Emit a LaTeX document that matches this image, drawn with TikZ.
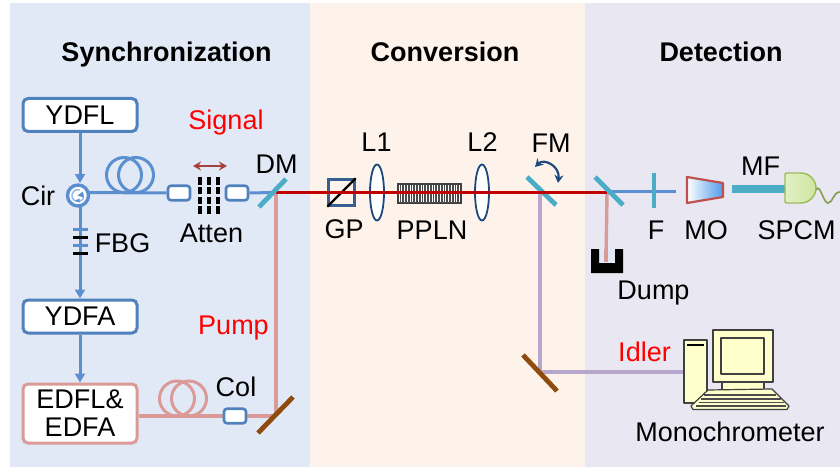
\documentclass[tikz,border=0pt]{standalone}
\usepackage{fontspec}
\setmainfont{Liberation Sans}
\usetikzlibrary{arrows.meta,shapes.geometric}
\definecolor{bgblue}{HTML}{E2E9F6}
\definecolor{bgpeach}{HTML}{FDF3EB}
\definecolor{bglav}{HTML}{E9E7F2}
\definecolor{fibre}{HTML}{5B8FD0}
\definecolor{boxblue}{HTML}{4F81BD}
\definecolor{pinkl}{HTML}{D99A98}
\definecolor{beam}{HTML}{C00000}
\definecolor{tealm}{HTML}{4BACC6}
\definecolor{mbrown}{HTML}{8F4A0E}
\definecolor{idl}{HTML}{B7A6CC}
\definecolor{navy}{HTML}{1F497D}
\definecolor{pcy}{HTML}{FFFFCC}
\definecolor{gpb}{HTML}{376092}
\definecolor{brownarr}{HTML}{A5423F}
\definecolor{moedge}{HTML}{C0504D}
\definecolor{moblue}{HTML}{4F9BEA}
\definecolor{gateedge}{HTML}{9BBB59}
\definecolor{gatefill}{HTML}{CFE6A0}
\tikzset{
 x=1pt,y=-1pt,
 lab/.style={font=\fontsize{27}{28}\selectfont,inner sep=0pt,text=black,anchor=base},
 redlab/.style={lab,text=red},
 head/.style={font=\fontsize{27}{28}\selectfont\bfseries,inner sep=0pt,anchor=base},
 ubox/.style={draw=boxblue,line width=3pt,fill=white,rounded corners=5pt,minimum width=114pt,minimum height=33pt,inner sep=0pt,font=\fontsize{27}{28}\selectfont},
 pbox/.style={ubox,draw=pinkl},
 colbox/.style={draw=boxblue,line width=2.6pt,fill=white,rounded corners=3pt,minimum width=22pt,minimum height=14.5pt,inner sep=0pt},
 fib/.style={draw=fibre,line width=3pt},
 pmp/.style={draw=pinkl,line width=3.4pt},
 idlr/.style={draw=idl,line width=3.4pt},
 arr/.style={-{Triangle[width=10pt,length=9pt]}},
 mirt/.style={draw=tealm,line width=4.8pt},
 mirb/.style={draw=mbrown,line width=4.8pt},
 lens/.style={ellipse,draw=navy,line width=1.8pt,fill=white,minimum width=14pt,minimum height=56pt,inner sep=0pt},
 pcs/.style={draw=black!75,line width=1.2pt,fill=pcy,line join=round},
 dbl/.style={{Stealth[length=8pt,width=9pt]}-{Stealth[length=8pt,width=9pt]}},
}
\begin{document}
\begin{tikzpicture}
\useasboundingbox (0,0) rectangle (840,468);
\fill[white] (0,0) rectangle (840,468);
\fill[bgblue] (10,3) rectangle (310,467);
\fill[bgpeach] (310,3) rectangle (585,467);
\fill[bglav] (585,3) rectangle (840,467);
\node[head] (t1) at (166.5,61.7) {Synchronization};
\node[head] (t2) at (445,61.7) {Conversion};
\node[head] (t3) at (721,61.7) {Detection};
% junctions
\coordinate (dm) at (276,192.5);
\coordinate (pm) at (276,416);
\coordinate (fm) at (540,192.5);
\coordinate (ds) at (607,192.5);
\coordinate (dsb) at (607,191);
\coordinate (im) at (540,372);
\coordinate (fend) at (676,191);
\coordinate (fbgt) at (80,229);
\coordinate (fbgb) at (80,253);
\coordinate (dumpin) at (606,262);
% boxes
\node[ubox] (ydfl) at (80,115) {YDFL};
\node[ubox] (ydfa) at (80,316.5) {YDFA};
\node[pbox,minimum height=59pt,align=center] (edfl) at (80,413.5) {\fontsize{27}{27.5}\selectfont EDFL\&\\EDFA};
\node[circle,minimum size=24pt,inner sep=0pt] (cir) at (78,195.5) {};
\node[colbox] (c1) at (179,193) {};
\node[colbox] (c2) at (237,193) {};
\coordinate (dmin) at (272,192.5);
\coordinate (cirout) at (80,192.5);
% fibres
\draw[fib] (cirout) -- (c1.west);
\draw[fib] (c2.east) -- (dmin);
\draw[fib] (124,175) circle (17.5);
\draw[fib] (136,175) circle (17.5);
\draw[fib,arr] (ydfl.south -| 80,0) -- (80,183);
\draw[fib] (80,207) -- (fbgb);
\draw[fib,arr] (fbgb) -- (ydfa.north);
\draw[fib,arr] (ydfa.south) -- (edfl.north);
\draw[line width=3pt,draw=fibre] (73,229) -- (88,229);
\draw[line width=3pt,draw=black] (73,237) -- (88,237);
\draw[line width=3pt,draw=fibre] (73,245) -- (88,245);
\draw[line width=3pt,draw=black] (73,253) -- (88,253);
% circulator
\draw[draw=fibre,line width=3.4pt,fill=white] (cir.center) circle (10.5);
\draw[draw=fibre!60!white,line width=1.6pt] (cir.center)++(15:6) arc (15:290:6);
\fill[fibre] (84,197.5) -- (77.5,195.5) -- (83,191.5) -- cycle;
\fill[fibre] (75,200.5) -- (79.5,198.5) -- (79.5,202.5) -- cycle;
% attenuator
\foreach \xa in {200,209,218}
 \draw[black,line width=3.4pt,dash pattern=on 7.5pt off 2.3pt] (\xa,177) -- (\xa,214);
\draw[brownarr,line width=2.2pt,dbl] (193,166) -- (227,166);
% pump
\draw[pmp] (edfl.east |- pm) -- (pm);
\draw[pmp] (pm) -- (dm);
\draw[draw=pinkl,line width=3pt] (177,398.5) circle (17.5);
\draw[draw=pinkl,line width=3pt] (189,398.5) circle (17.5);
\node[colbox] (c3) at (235,416) {};
\draw[mirb] (258,433) -- (293,397);
% mirrors and free space
\draw[idlr] (fm) -- (im);
\draw[pmp] (ds) -- (dumpin);
\draw[idlr] (im) -- (684,372);
\draw[mirb] (523,355) -- (557,391);
% dump
\fill[bgblue] (599,249) rectangle (615,263);
\fill[black] (591,249) -- (599,249) -- (599,263) -- (615,263) -- (615,249) -- (623,249) -- (623,273) -- (591,273) -- cycle;
\draw[pmp] (606,249) -- (dumpin);
% free-space optics
\node[draw=gpb,line width=2.4pt,minimum size=26pt,inner sep=0pt,fill=bgpeach] (gp) at (341.5,192.5) {};
\draw[black,line width=2.2pt] (gp.south west) -- (gp.north east);
\node[lens] (l1) at (377,192.5) {};
\node[lens] (l2) at (482,192.5) {};
\node[draw=black!75,line width=1.4pt,fill=white,minimum width=63pt,minimum height=19pt,inner sep=0pt] (ppln) at (429.5,193.5) {};
\foreach \i in {0,...,21}
 \draw[black!70,line width=1.6pt] (400.5+\i*2.75,184.5) -- (400.5+\i*2.75,202.5);
\draw[mirt] (527,177) -- (556,205);
\draw[fib] (dsb) -- (fend);
\draw[beam,line width=3pt] (dm) -- (ds);
\draw[mirt] (259,207) -- (286,179);
\draw[mirt] (595,177) -- (623,205);
\draw[mirt] (654,173) -- (654,208);
\draw[navy,line width=2.2pt,dbl] (535,167) .. controls (544,158) and (560,166) .. (558,183);
% detector
\draw[draw=moedge,line width=2.2pt,left color=white,right color=moblue,line join=round] (687,177) -- (723,183) -- (723,197) -- (687,203) -- cycle;
\coordinate (moout) at (732,189);
\coordinate (spcmin) at (786,189);
\draw[tealm,line width=8.5pt] (moout) -- (spcmin);
\draw[draw=gateedge,line width=1.4pt,left color=gatefill!60!white,right color=gatefill,rounded corners=1pt] (785,173) -- (800,173) arc (-90:90:16 and 15) -- (785,203) -- cycle;
\draw[draw=gateedge!85!black,line width=1.6pt] (816,190) .. controls (820,182) and (823,203) .. (828,203) .. controls (833,203) and (833,192) .. (840,192);
% computer
\draw[pcs] (684,340) rectangle (707,403);
\draw[black,line width=1.5pt] (687,345) -- (704,345);
\draw[pcs] (722,382) rectangle (764,390);
\draw[pcs] (713,330) rectangle (773,382);
\draw[pcs,line width=1.4pt] (721,338) rectangle (764,374);
\draw[pcs] (708,390) -- (772,389) -- (789,406) -- (787,409.5) -- (693,409.5) -- (691,406) -- cycle;
\draw[black!70,line width=1.2pt] (704,395) -- (776,395);
\draw[black!70,line width=1.2pt] (701,399) -- (781,399);
\draw[black!70,line width=1.2pt] (699,402.5) -- (784,402.5);
\draw[black!70,line width=1.6pt] (696,406) -- (786,406);
% labels
\node[lab] (lcir) at (38,205) {Cir};
\node[lab] (lfbg) at (122.5,252) {FBG};
\node[lab] (lat) at (211.5,242) {Atten};
\node[lab] (ldm) at (276.5,173) {DM};
\node[redlab] (lsig) at (226,130) {Signal};
\node[redlab] (lpump) at (233.5,334) {Pump};
\node[lab] (lcol) at (236,396) {Col};
\node[lab] (lgp) at (344,238) {GP};
\node[lab] (ll1) at (376.5,151) {L1};
\node[lab] (lpp) at (432,239) {PPLN};
\node[lab] (ll2) at (482.5,151) {L2};
\node[lab] (lfm) at (551,153) {FM};
\node[lab] (lf) at (656,239) {F};
\node[lab] (lmo) at (706,239) {MO};
\node[lab] (lsp) at (796.5,239) {SPCM};
\node[lab] (lmf) at (760.5,175) {MF};
\node[lab] (ldu) at (653.5,299) {Dump};
\node[redlab] (lid) at (644.5,361) {Idler};
\node[lab] (lmono) at (730,441) {Monochrometer};
\end{tikzpicture}
\end{document}
